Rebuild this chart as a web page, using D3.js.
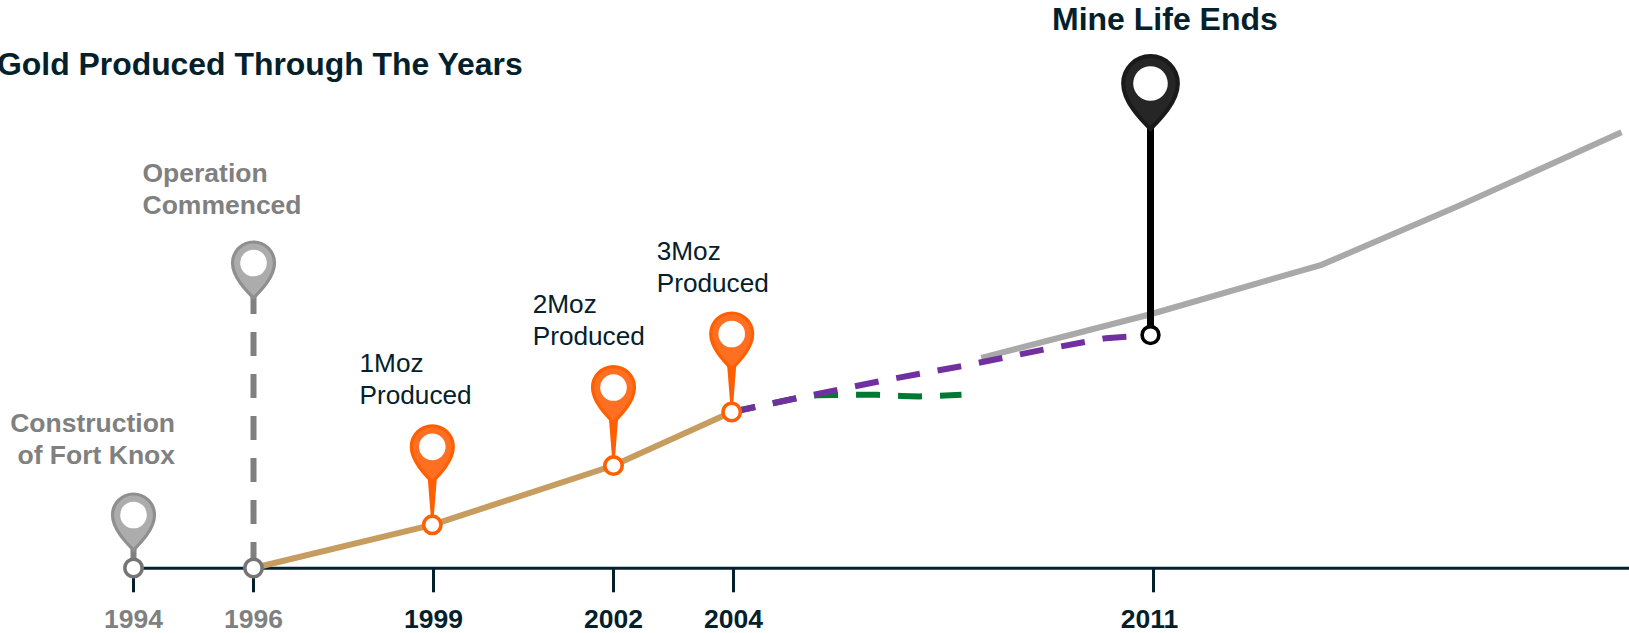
<!DOCTYPE html>
<html><head><meta charset="utf-8">
<script src="https://cdnjs.cloudflare.com/ajax/libs/d3/7.8.5/d3.min.js"></script>
<style>html,body{margin:0;padding:0;background:#fff;overflow:hidden}svg{display:block}text{font-family:"Liberation Sans",Arial,sans-serif}</style>
</head><body><svg id="c" width="1629" height="633"></svg>
<script>
// Data (years on x, cumulative gold produced in Moz on y)
const tickYears = [1994, 1996, 1999, 2002, 2004, 2011];
const greyTickYears = [1994, 1996];
const actualYears = [1996, 1998.98, 2002, 2003.97];
const actualMoz = [0, 0.83, 1.97, 3.0];
const planAYears = [2003.97, 2005.07, 2006.47, 2007.84, 2009.21, 2010.21, 2010.95];
const planAMoz = [3.0, 3.27, 3.6, 3.89, 4.21, 4.42, 4.48];
const planBYears = [2003.97, 2005.07, 2005.38, 2006, 2006.4, 2006.8, 2007.1, 2007.8];
const planBMoz = [3.0, 3.27, 3.32, 3.33, 3.33, 3.31, 3.3, 3.33];
const futureYears = [2008.13, 2010.95, 2013.8, 2016.1, 2018.8];
const futureMoz = [4.04, 4.88, 5.83, 6.97, 8.38];
const orangePinYears = [1998.98, 2002, 2003.97];
const orangePinMoz = [0.83, 1.97, 3.0];
const endYear = 2010.95;
const endMoz = 4.48;

const svg = d3.select('#c');
const ink = '#04212b';
const x = d3.scaleLinear().domain([1994, 2011]).range([133.5, 1153.5]);
const y = d3.scaleLinear().domain([0, 10]).range([568, 48]);
const line = d3.line().x(d => x(d[0])).y(d => y(d[1]));
const zip = (a, b) => a.map((v, i) => [v, b[i]]);

// axis
const xAxisScale = x.copy().domain([1994, x.invert(1629)]).range([133.5, 1629]);
const ag = svg.append('g').attr('transform', `translate(0,${y(0) + 0.3})`)
  .call(d3.axisBottom(xAxisScale).offset(0).tickValues(tickYears).tickFormat(d3.format('d')).tickSize(24).tickPadding(17).tickSizeOuter(0));
ag.select('.domain').attr('stroke', ink).attr('stroke-width', 3);
ag.selectAll('.tick line').attr('stroke', ink).attr('stroke-width', 3);
ag.selectAll('.tick text')
  .attr('font-size', 26.5).attr('font-weight', 'bold').attr('font-family', '"Liberation Sans",Arial,sans-serif')
  .attr('dx', d => d === 2011 ? -4 : 0)
  .attr('fill', d => greyTickYears.includes(d) ? '#808080' : ink);

// lines
const drawLine = (pts, col, dash) => svg.append('path').attr('d', line(pts)).attr('fill', 'none')
  .attr('stroke', col).attr('stroke-width', 6).attr('stroke-dasharray', dash || null);
drawLine(zip(futureYears, futureMoz), '#a9a9a9');
drawLine(zip(actualYears, actualMoz), '#c69c5f');
drawLine(zip(planBYears, planBMoz), '#007a33', '24 18');
drawLine(zip(planAYears, planAMoz), '#7030a0', '24 18');

// pins
function pin(px, tipY, k, fill, edge) {
  const g = svg.append('g').attr('transform', `translate(${px},${tipY}) scale(${k})`);
  // drop shape: tip at origin, head radius 21, head centre 35 above the tip
  g.append('path').attr('d', 'M0,0 C-7,-7 -21,-21 -21,-35 A21,21 0 1 1 21,-35 C21,-21 7,-7 0,0 Z')
    .attr('fill', fill).attr('stroke', edge).attr('stroke-width', 3.2);
  g.append('circle').attr('cy', -35).attr('r', 13.3).attr('fill', '#fff');
}
function ring(px, py, col, r, sw) {
  svg.append('circle').attr('cx', px).attr('cy', py).attr('r', r).attr('fill', '#fff').attr('stroke', col).attr('stroke-width', sw);
}

// 1994 pin
svg.append('rect').attr('x', x(1994) - 3).attr('y', y(0) - 22).attr('width', 6).attr('height', 14).attr('fill', '#808080');
pin(x(1994), y(0) - 18, 1, '#acacac', '#8f8f8f');
ring(x(1994), y(0), '#757575', 8.7, 3.6);

// 1996 pin with dashed stem
svg.append('line').attr('x1', x(1996)).attr('x2', x(1996)).attr('y1', 566).attr('y2', 290)
  .attr('stroke', '#808080').attr('stroke-width', 6).attr('stroke-dasharray', '24 18');
pin(x(1996), 298, 1, '#acacac', '#8f8f8f');
ring(x(1996), y(0), '#757575', 8.7, 3.6);

// orange pins
orangePinYears.forEach((yr, i) => {
  const px = x(yr), py = y(orangePinMoz[i]);
  svg.append('path').attr('d', `M${px-4.5},${py-46} L${px+4.5},${py-46} L${px+1.5},${py-8} L${px-1.5},${py-8} Z`).attr('fill', '#ff5f00');
  pin(px, py - 43, 1, '#ff6f22', '#ff5f00');
  ring(px, py, '#ff5f00', 8.7, 3.6);
});

// black pin
const bx = x(endYear), by = y(endMoz);
svg.append('line').attr('x1', bx).attr('x2', bx).attr('y1', 125).attr('y2', by).attr('stroke', '#000').attr('stroke-width', 7);
pin(bx, 129, 1.3, '#262626', '#1a1a1a');
ring(bx, by, '#000', 8.4, 3.6);

// text
function label(lines, tx, ty, lh, size, weight, col, anchor) {
  lines.forEach((s, i) => svg.append('text').text(s).attr('x', tx).attr('y', ty + i * lh)
    .attr('font-size', size).attr('font-weight', weight).attr('fill', col).attr('text-anchor', anchor || 'start'));
}
label(['Gold Produced Through The Years'], -3, 75, 0, 31.9, 'bold', ink);
label(['Mine Life Ends'], 1052, 30, 0, 32, 'bold', ink);
label(['Construction', 'of Fort Knox'], 175, 432, 32, 26.5, 'bold', '#808080', 'end');
label(['Operation', 'Commenced'], 142.5, 182, 32, 26.5, 'bold', '#808080');
label(['1Moz', 'Produced'], 359.5, 372, 32, 26.2, 'normal', ink);
label(['2Moz', 'Produced'], 532.7, 313, 32, 26.2, 'normal', ink);
label(['3Moz', 'Produced'], 656.7, 260, 32, 26.2, 'normal', ink);
</script></body></html>
